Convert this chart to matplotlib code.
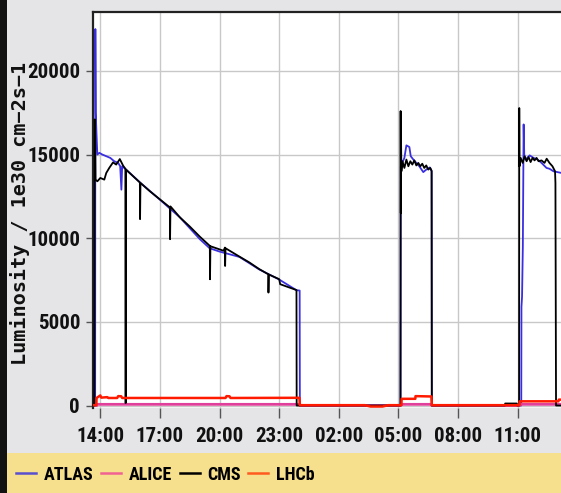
import numpy as np
import matplotlib

matplotlib.use("Agg")
import matplotlib.pyplot as plt
import matplotlib.dates as mdates
from matplotlib import font_manager as fm
from matplotlib.lines import Line2D
from matplotlib.patches import Rectangle

# ---------------------------------------------------------------------------
# Data: hours after 14:00 on day one, luminosity in 1e30 cm-2 s-1
# ---------------------------------------------------------------------------
ATLAS_H = [-0.27, -0.26, -0.25, -0.23, -0.20, -0.15, -0.05, 0.10, 0.30, 0.50,
           0.70, 0.90, 1.00, 1.06, 1.10, 1.30, 2.00, 3.00, 4.00, 4.50, 5.00,
           5.50, 6.00, 7.00, 8.00, 9.00, 9.87, 10.03, 10.04,
           15.11, 15.12, 15.30, 15.40, 15.55, 15.62, 15.75, 15.90, 16.05, 16.25,
           16.40, 16.58, 16.67, 16.68,
           21.18, 21.19, 21.22, 21.26, 21.30, 21.33, 21.40, 21.60, 21.80, 22.00,
           22.20, 22.45, 22.60, 22.80, 23.00, 23.20]
ATLAS_V = [0, 0, 22500, 17500, 16500, 15000, 15100, 15000, 14900, 14800,
           14600, 14500, 14300, 12900, 14300, 14100, 13330, 12300, 11250, 10600, 9950,
           9400, 9200, 8880, 8130, 7530, 6890, 6870, 0,
           0, 14300, 14800, 15550, 15450, 14900, 14700, 14500, 14300, 13950,
           14100, 14230, 14000, 0,
           0, 5900, 6500, 9500, 16800, 15000, 14700, 14950, 14800, 14700,
           14500, 14200, 14150, 14000, 13950, 13900]

CMS_H = [-0.30, -0.28, -0.26, -0.24, -0.15, 0.00, 0.20, 0.30, 0.45, 0.64,
         0.80, 0.98, 1.15, 1.26, 1.265, 1.285, 1.29, 1.99, 2.00, 2.02, 2.50,
         3.00, 3.50, 3.51, 3.53, 4.00, 4.50, 5.00, 5.51, 5.52, 5.54, 6.20,
         6.27, 6.28, 6.30, 7.00, 7.50, 8.00, 8.45, 8.46, 8.48, 9.00, 9.05,
         9.40, 9.87, 9.88,
         15.10, 15.11, 15.12, 15.13, 15.15, 15.20, 15.30, 15.40, 15.50, 15.60,
         15.70, 15.80, 15.90, 16.00, 16.10, 16.20, 16.30, 16.40, 16.50, 16.60,
         16.67, 16.68,
         20.36, 20.37, 20.96, 20.97, 21.07, 21.08, 21.09, 21.15, 21.25, 21.35,
         21.45, 21.55, 21.65, 21.75, 21.85, 21.95, 22.05, 22.20, 22.35, 22.46,
         22.60, 22.75, 22.88, 22.90, 22.93, 23.20]
CMS_V = [0, 17100, 16200, 13500, 13400, 13600, 13500, 13900, 14200, 14530,
         14400, 14730, 14330, 14150, 150, 150, 14100, 13330, 11140, 13300, 12800,
         12320, 11840, 9940, 11900, 11250, 10700, 10100, 9540, 7545, 9520, 9250,
         9440, 8340, 9400, 8900, 8550, 8150, 7845, 6750, 7830, 7550, 7250,
         7100, 6900, 0,
         0, 17600, 11500, 16000, 14000, 14600, 14200, 14700, 14300, 14600,
         14400, 14650, 14350, 14500, 14300, 14450, 14200, 14350, 14100, 14200,
         14030, 0,
         0, 120, 120, 0, 0, 17780, 14300, 14800, 14500, 14900,
         14600, 14850, 14550, 14800, 14650, 14800, 14600, 14650, 14500, 14750,
         14500, 14300, 14000, 13300, 0, 0]

ALICE_H = [-0.20, -0.19, 10.04, 10.05, 15.12, 15.13, 16.67, 16.68, 21.10, 21.11, 23.20]
ALICE_V = [0, 70, 70, 0, 0, 70, 70, 0, 0, 70, 70]

LHCB_H = [-0.40, -0.20, -0.19, 0.00, 0.05, 0.35, 0.40, 0.85, 0.90, 1.05, 1.10,
          6.30, 6.35, 6.50, 6.55, 10.02, 10.04, 13.30, 13.60, 14.20, 14.50,
          15.15, 15.16, 15.85, 15.86, 16.66, 16.68, 21.09, 21.10, 23.05, 23.07, 23.20]
LHCB_V = [20, 20, 450, 600, 470, 500, 450, 450, 560, 550, 450,
          450, 560, 550, 450, 460, 20, 20, -60, -60, 20,
          20, 400, 400, 560, 540, 20, 20, 250, 250, 350, 350]

Y_TICKS = [0, 5000, 10000, 15000, 20000]
T0 = np.datetime64("2012-06-01T14:00:00")


def to_time(hours):
    return T0 + (np.array(hours) * 3600).astype("int64").astype("timedelta64[s]")


def narrow_font():
    # first condensed family that is really installed, else plain DejaVu
    for fam in ["Roboto Condensed", "Liberation Sans Narrow", "Open Sans Condensed",
                "DejaVu Sans Condensed"]:
        try:
            fm.findfont(fm.FontProperties(family=fam), fallback_to_default=False)
            return fam, 15
        except ValueError:
            pass
    return "DejaVu Sans", 11.5


TICK_FAM, TICK_SIZE = narrow_font()
BG = "#e5e5e8"

fig = plt.figure(figsize=(5.61, 4.93), dpi=100, facecolor=BG)
ax = fig.add_axes([0.165, 0.1734, 0.835, 0.8016])
ax.set_facecolor("white")

# panel decorations: legend band and dark left strip
fig.patches.append(Rectangle((0, 0), 1, 0.081, transform=fig.transFigure,
                             facecolor="#f6e08e", edgecolor="none", zorder=0))
fig.patches.append(Rectangle((0, 0), 0.0125, 1, transform=fig.transFigure,
                             facecolor="#111111", edgecolor="none", zorder=1))

ax.plot(to_time(ATLAS_H), ATLAS_V, color="#3a2fe0", lw=1.3, zorder=2)
ax.plot(to_time(ALICE_H), ALICE_V, color="#e0409a", lw=2.0, zorder=3)
ax.plot(to_time(CMS_H), CMS_V, color="black", lw=1.3, zorder=4)
ax.plot(to_time(LHCB_H), LHCB_V, color="#ff1a00", lw=1.8, zorder=5)

ax.set_xlim(to_time([-0.39])[0], to_time([23.18])[0])
ax.set_ylim(-120, 23500)
ax.set_yticks(Y_TICKS)
ax.xaxis.set_major_locator(mdates.HourLocator(byhour=[14, 17, 20, 23, 2, 5, 8, 11]))
ax.xaxis.set_major_formatter(mdates.DateFormatter("%H:%M"))

ax.grid(True, color="#c8c8c8", lw=1.0)
ax.set_axisbelow(True)
for side in ("right", "bottom"):
    ax.spines[side].set_visible(False)
for side in ("left", "top"):
    ax.spines[side].set_color("#222222")
    ax.spines[side].set_linewidth(1.6)

ax.tick_params(axis="y", length=5, width=1, color="#555555", pad=4)
ax.tick_params(axis="x", length=7, width=1, color="#555555", pad=7)
for lab in ax.get_xticklabels() + ax.get_yticklabels():
    lab.set_family(TICK_FAM)
    lab.set_fontstretch("condensed")
    lab.set_fontweight("bold")
    lab.set_fontsize(TICK_SIZE)
    lab.set_color("#111111")

fig.text(0.035, 0.567, "Luminosity / 1e30 cm\u22122s\u22121", rotation=90,
         ha="center", va="center", family=["DejaVu Sans Mono"],
         fontweight="bold", fontsize=14.5, color="#111111")

handles = [
    Line2D([], [], color="#5a4fcf", lw=1.8, label="ATLAS"),
    Line2D([], [], color="#f06292", lw=1.8, label="ALICE"),
    Line2D([], [], color="black", lw=1.8, label="CMS"),
    Line2D([], [], color="#ff5a1f", lw=1.8, label="LHCb"),
]
leg = fig.legend(handles=handles, loc="center left", bbox_to_anchor=(0.01, 0.037),
                 ncol=4, frameon=False, handlelength=1.1, handletextpad=0.4,
                 columnspacing=0.45, borderaxespad=0.2,
                 prop={"family": TICK_FAM, "stretch": "condensed", "weight": "bold",
                       "size": TICK_SIZE - 2})

fig.savefig("out.png", dpi=100, facecolor=BG)
